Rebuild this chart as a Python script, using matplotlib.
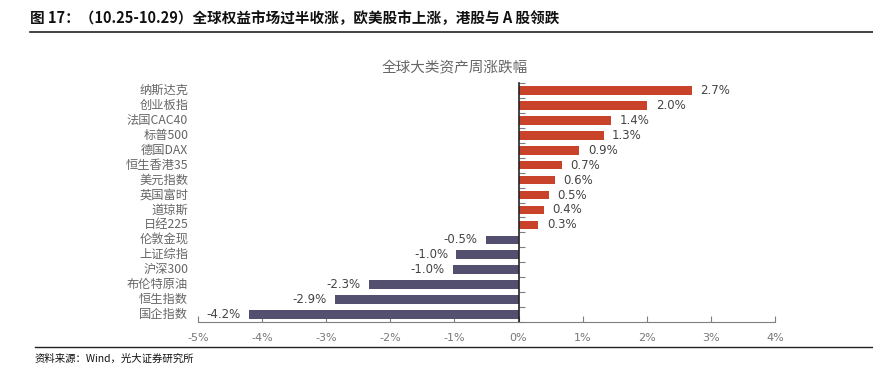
import matplotlib
matplotlib.use("Agg")
import matplotlib.pyplot as plt
import matplotlib.transforms as mtransforms
import numpy as np

plt.rcParams['font.family'] = ['Noto Sans CJK SC', 'DejaVu Sans']

# dane
kategorie = ["纳斯达克", "创业板指", "法国CAC40", "标普500", "德国DAX", "恒生香港35",
             "美元指数", "英国富时", "道琼斯", "日经225", "伦敦金现", "上证综指",
             "沪深300", "布伦特原油", "恒生指数", "国企指数"]
wartosci = [2.70, 2.01, 1.44, 1.33, 0.95, 0.67, 0.57, 0.47, 0.40, 0.31,
            -0.51, -0.97, -1.02, -2.33, -2.86, -4.21]
etykiety = ["2.7%", "2.0%", "1.4%", "1.3%", "0.9%", "0.7%", "0.6%", "0.5%",
            "0.4%", "0.3%", "-0.5%", "-1.0%", "-1.0%", "-2.3%", "-2.9%", "-4.2%"]
os_x = [-5, -4, -3, -2, -1, 0, 1, 2, 3, 4]

czerwony = "#C8432A"
granat = "#524F6F"
szary = "#666666"

fig = plt.figure(figsize=(8.73, 3.87), dpi=100)
W, H = 873, 387
ax = fig.add_axes([198 / W, 1 - 322 / H, (775 - 198) / W, (322 - 83) / H])

n = len(kategorie)
y = np.arange(n)[::-1]
kolory = [czerwony if v >= 0 else granat for v in wartosci]
ax.barh(y, wartosci, height=0.58, color=kolory, edgecolor="none", zorder=2)

for yi, v, e in zip(y, wartosci, etykiety):
    if v >= 0:
        ax.text(v + 0.13, yi, e, ha="left", va="center", fontsize=8.5,
                color="#444444", family=["DejaVu Sans"])
    else:
        ax.text(v - 0.13, yi, e, ha="right", va="center", fontsize=8.5,
                color="#444444", family=["DejaVu Sans"])

tr = mtransforms.blended_transform_factory(ax.transAxes, ax.transData)
for yi, k in zip(y, kategorie):
    ax.text(-0.017, yi, k, transform=tr, ha="right", va="center",
            fontsize=8.8, color=szary)

ax.set_xlim(-5, 4)
ax.set_ylim(-0.5, n - 0.5)
ax.set_xticks(os_x)
ax.set_xticklabels([f"{t}%" for t in os_x], fontsize=8, color="#777777",
                   family=["DejaVu Sans"])
ax.tick_params(axis="x", direction="in", length=4, color="#7f7f7f", pad=8)

ax.spines["top"].set_visible(False)
ax.spines["right"].set_visible(False)
ax.spines["bottom"].set_color("#7f7f7f")
ax.spines["left"].set_position(("data", 0))
ax.spines["left"].set_color("#222222")
ax.spines["left"].set_linewidth(1.2)
ax.set_yticks(np.arange(n + 1) - 0.5)
ax.set_yticklabels([])
ax.tick_params(axis="y", direction="in", length=4, color="#7f7f7f")

fig.text(455 / W, 1 - 68 / H, "全球大类资产周涨跌幅", fontsize=10.5, color=szary,
         ha="center", va="center")

# naglowek i zrodlo
fig.text(30 / W, 1 - 18 / H, "图 17：（10.25-10.29）全球权益市场过半收涨，欧美股市上涨，港股与 A 股领跌",
         fontsize=10.5, fontweight="bold", color="#111111", ha="left", va="center")
fig.add_artist(plt.Line2D([30 / W, 1], [1 - 32 / H, 1 - 32 / H], color="#222222", lw=1.2))
fig.add_artist(plt.Line2D([35 / W, 1], [1 - 347 / H, 1 - 347 / H], color="#222222", lw=1))
fig.text(35 / W, 1 - 359 / H, "资料来源：Wind，光大证券研究所", fontsize=7.5,
         color="#111111", ha="left", va="center")

fig.savefig("out.png", dpi=100)
